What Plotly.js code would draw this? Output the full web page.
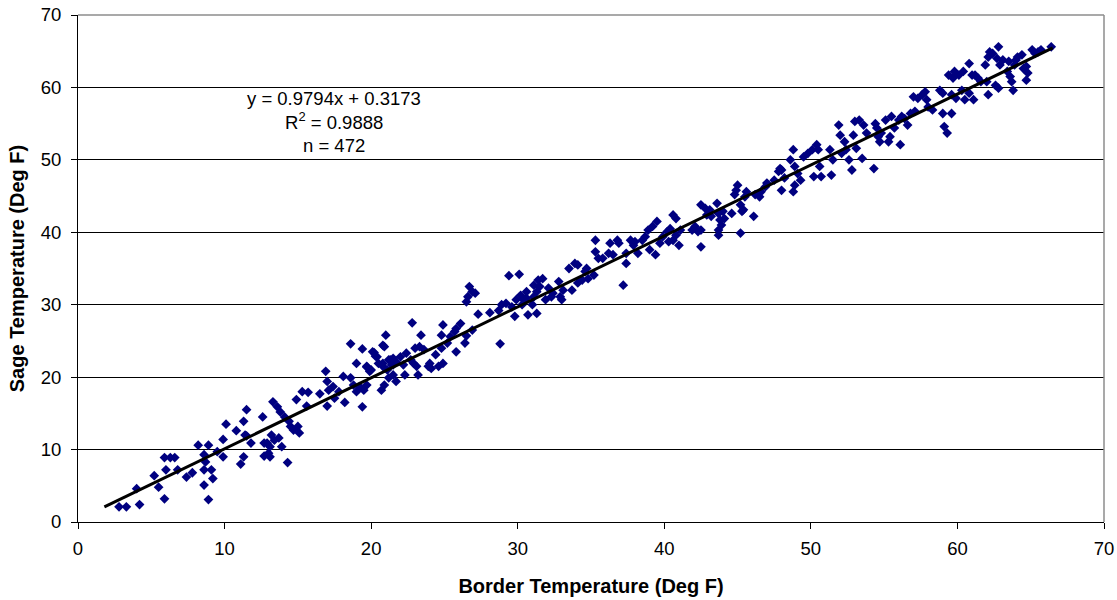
<!DOCTYPE html>
<html>
<head>
<meta charset="utf-8">
<script src="https://cdn.plot.ly/plotly-3.0.1.min.js"></script>
<style>html,body{margin:0;padding:0;background:#fff;}#chart{width:1117px;height:600px;}</style>
</head>
<body>
<div id="chart"></div>
<script>
// Border temperature (x) and Sage temperature (y)
const borderTemp = [
2.8,3.3,4.2,4.0,5.5,5.9,5.2,6.0,5.9,6.3,6.6,6.8,7.4,7.8,8.2,8.9,8.6,8.6,8.6,8.9,9.1,9.2,8.7,9.5,9.9,9.9,10.1,10.8,11.3,11.5,11.1,11.3,11.5,11.8,12.6,12.7,12.7,
11.4,13.0,13.1,14.3,
12.9,13.2,13.4,13.1,13.7,13.9,13.3,13.6,13.8,14.1,14.4,14.5,14.7,15.0,15.1,14.9,15.3,15.7,15.6,16.5,16.9,17.0,17.1,17.4,17.5,17.8,17.0,18.2,18.1,18.6,18.8,19.0,19.2,18.6,19.4,19.0,19.4,19.7,19.9,19.7,19.5,20.2,20.4,20.8,21.0,20.8,21.1,21.3,21.5,21.2,20.7,20.9,21.5,21.7,
19.7,20.0,20.3,20.1,20.5,20.8,20.9,21.2,21.4,21.5,21.7,22.0,22.2,22.3,22.4,22.7,22.9,23.0,23.1,23.2,23.3,23.6,23.4,22.8,23.9,24.1,24.0,24.4,24.6,24.9,24.8,24.9,24.8,25.2,25.4,25.7,25.8,26.1,25.8,26.4,26.5,26.9,27.3,26.5,26.6,26.9,26.7,27.1,28.1,28.7,28.8,
28.9,29.2,29.6,29.8,29.9,30.2,30.3,30.4,30.6,30.7,31.0,31.1,31.1,31.3,31.3,31.4,31.5,31.7,31.9,32.1,32.3,32.4,32.8,32.9,33.0,33.1,33.5,33.7,33.9,34.1,34.1,34.4,34.6,34.7,34.8,35.2,35.3,35.3,35.5,35.8,36.2,36.3,36.5,36.8,36.9,37.2,37.4,37.4,37.7,37.9,38.0,38.2,29.4,30.1,30.6,
38.5,38.7,38.9,39.2,39.5,39.0,39.4,39.7,39.9,40.2,40.4,40.3,40.6,40.8,40.6,40.8,41.1,41.0,41.9,42.1,42.3,42.5,42.5,42.5,42.8,42.9,43.1,43.2,43.6,43.7,43.8,43.9,43.7,43.7,44.1,44.0,44.6,44.8,44.9,45.0,45.2,45.3,45.4,45.2,45.5,45.6,46.1,46.2,46.5,46.6,46.9,47.0,47.5,47.8,47.9,
48.0,48.2,48.6,48.8,48.9,49.1,49.3,49.5,49.8,50.1,50.2,50.4,50.5,50.6,50.7,51.3,51.4,51.5,51.9,52.0,52.1,52.3,52.4,52.6,52.8,52.9,53.0,53.1,53.3,53.5,53.6,53.8,54.3,54.4,54.5,54.6,54.7,54.8,55.1,55.3,55.4,55.5,55.7,56.0,56.1,56.2,56.4,56.6,56.8,57.0,57.1,57.3,48.0,48.8,48.9,
57.6,57.8,57.9,58.0,58.3,58.8,59.0,59.0,59.1,59.3,59.4,59.6,59.6,59.7,59.8,59.9,60.1,60.3,60.5,60.4,60.8,60.8,61.1,61.0,61.2,61.4,61.6,61.9,62.0,62.1,62.1,62.2,62.4,62.7,62.8,62.6,62.8,62.9,63.1,63.4,63.5,63.6,63.7,63.8,63.9,64.0,64.1,64.4,64.5,64.7,64.7,64.8,65.1,65.3,65.5,65.7,66.4
];
const sageTemp = [
2.1,2.1,2.4,4.6,4.8,3.2,6.4,7.2,8.9,8.9,8.9,7.2,6.2,6.8,10.6,10.6,9.3,7.2,5.1,3.1,7.2,6.0,8.3,9.7,9.0,11.4,13.5,12.6,13.9,15.5,8.0,9.0,11.9,10.9,14.5,10.9,9.1,
12.0,9.5,9.0,8.2,
10.9,12.0,11.3,10.4,11.6,10.4,16.6,15.9,15.2,14.5,13.9,13.2,12.7,13.2,12.3,16.9,18.0,17.9,16.0,17.7,20.8,19.4,18.2,18.7,17.1,18.0,16.0,16.5,20.1,19.9,18.9,18.0,18.7,24.6,23.9,21.9,15.9,21.4,20.8,18.9,18.2,23.4,22.8,24.4,25.8,21.9,21.0,22.4,21.7,19.9,18.2,18.9,20.3,19.4,
21.5,21.0,22.9,23.5,21.9,21.5,24.2,22.4,21.7,22.6,22.1,22.8,21.7,20.3,23.3,22.4,21.9,24.0,21.5,20.3,24.2,23.8,25.8,27.5,21.5,21.2,21.9,23.1,21.5,21.9,25.8,27.2,24.0,24.7,25.6,26.3,26.7,27.4,23.5,24.7,25.7,26.5,28.7,30.4,31.1,31.8,32.5,31.6,28.9,29.2,24.6,
30.0,30.2,29.7,28.4,30.7,31.3,30.0,30.7,30.9,28.6,30.0,31.1,32.7,31.8,28.8,33.4,32.5,33.6,30.7,32.3,31.1,31.6,33.2,31.1,30.7,32.0,35.0,32.0,35.7,35.5,33.0,33.4,34.6,35.0,33.6,34.1,38.9,37.3,36.4,36.4,37.1,38.5,36.9,38.9,38.5,32.7,35.7,37.1,38.9,38.2,38.7,37.1,34.0,34.2,31.8,
38.9,39.4,40.3,40.8,41.5,37.6,36.9,38.5,39.4,40.1,40.5,38.7,42.4,41.9,38.9,39.6,40.3,38.2,40.3,40.8,40.1,40.3,38.0,43.8,43.3,42.4,43.1,42.2,44.0,42.6,41.7,41.0,40.3,39.6,41.9,42.9,42.6,45.2,45.8,46.5,43.8,42.9,43.1,39.9,44.9,45.6,42.2,45.2,44.9,45.6,46.3,46.8,47.2,48.4,48.8,
48.6,47.5,50.0,51.4,49.1,48.1,47.2,50.4,50.9,51.4,47.7,52.1,51.4,49.1,47.7,51.4,47.9,50.0,54.8,53.4,50.9,52.5,51.4,50.0,48.6,53.4,55.3,51.6,55.5,50.2,54.8,53.7,48.8,55.0,54.4,53.2,52.5,53.7,55.5,52.5,53.2,56.0,54.4,55.5,52.1,56.0,55.7,54.8,56.4,58.7,56.7,58.5,45.8,45.6,46.5,
59.0,59.4,58.3,57.3,56.9,59.6,59.2,56.4,54.6,53.7,61.7,56.4,59.0,61.3,62.2,58.5,61.7,59.6,58.3,62.2,63.3,59.2,58.3,61.7,61.7,61.3,60.8,63.1,60.8,59.0,64.2,64.9,64.7,64.0,65.6,60.3,59.9,63.1,63.8,62.2,63.6,61.5,60.8,59.6,63.1,63.8,64.2,64.5,62.6,62.9,61.0,62.0,65.2,64.7,64.9,65.2,65.6
];

// Linear trendline reported on the chart
const trendSlope = 0.9794;
const trendIntercept = 0.3173;
const trendRange = [1.8, 66.5];
const eqLines = ['y = 0.9794x + 0.3173', 'R<sup>2</sup> = 0.9888', 'n = 472'];
const axisTicks = [0, 10, 20, 30, 40, 50, 60, 70];

const FONT = 'Arial, "Liberation Sans", sans-serif';

const scatter = {
  type: 'scatter', mode: 'markers',
  x: borderTemp, y: sageTemp,
  marker: {symbol: 'diamond', size: 7.5, color: '#000080', line: {width: 0}},
  hoverinfo: 'x+y', showlegend: false
};
const trend = {
  type: 'scatter', mode: 'lines',
  x: trendRange,
  y: trendRange.map(v => trendSlope * v + trendIntercept),
  line: {color: '#000000', width: 3},
  hoverinfo: 'skip', showlegend: false
};

const eqY = [58.5, 55.3, 52.0];
const annotations = eqLines.map((t, i) => ({
  x: 17.45, y: eqY[i], xref: 'x', yref: 'y', text: t, showarrow: false,
  xanchor: 'center', yanchor: 'middle',
  font: {family: FONT, size: 18.5, color: '#000'}
}));

const layout = {
  width: 1117, height: 600,
  margin: {l: 78, r: 13, t: 15, b: 78},
  paper_bgcolor: '#ffffff', plot_bgcolor: '#ffffff',
  font: {family: FONT, color: '#000'},
  xaxis: {
    range: [0, 70], tickvals: axisTicks, ticktext: axisTicks.map(String),
    ticks: 'outside', ticklen: 6, tickwidth: 1, tickcolor: '#000',
    showline: true, linecolor: '#000', linewidth: 1,
    showgrid: false, zeroline: false,
    tickfont: {family: FONT, size: 18.5, color: '#000'},
    ticklabelstandoff: 4,
    title: {text: 'Border Temperature (Deg F)', font: {family: FONT, size: 20, color: '#000', weight: 'bold'}, standoff: 20},
    automargin: false
  },
  yaxis: {
    range: [0, 70], tickvals: axisTicks, ticktext: axisTicks.map(String),
    ticks: 'outside', ticklen: 6, tickwidth: 1, tickcolor: '#000',
    showline: true, linecolor: '#000', linewidth: 1,
    showgrid: true, gridcolor: '#000', gridwidth: 1, zeroline: false,
    tickfont: {family: FONT, size: 18.5, color: '#000'},
    ticklabelstandoff: 6,
    title: {text: 'Sage Temperature (Deg F)', font: {family: FONT, size: 20, color: '#000', weight: 'bold'}, standoff: 10},
    automargin: false
  },
  shapes: [
    {type: 'line', xref: 'paper', yref: 'paper', x0: 0, x1: 1, y0: 1, y1: 1, line: {color: '#8c8c8c', width: 1.5}, layer: 'above'},
    {type: 'line', xref: 'paper', yref: 'paper', x0: 1, x1: 1, y0: 0, y1: 1, line: {color: '#8c8c8c', width: 1.5}, layer: 'above'}
  ],
  annotations: annotations
};

Plotly.newPlot('chart', [scatter, trend], layout, {staticPlot: true, displayModeBar: false});
</script>
</body>
</html>
